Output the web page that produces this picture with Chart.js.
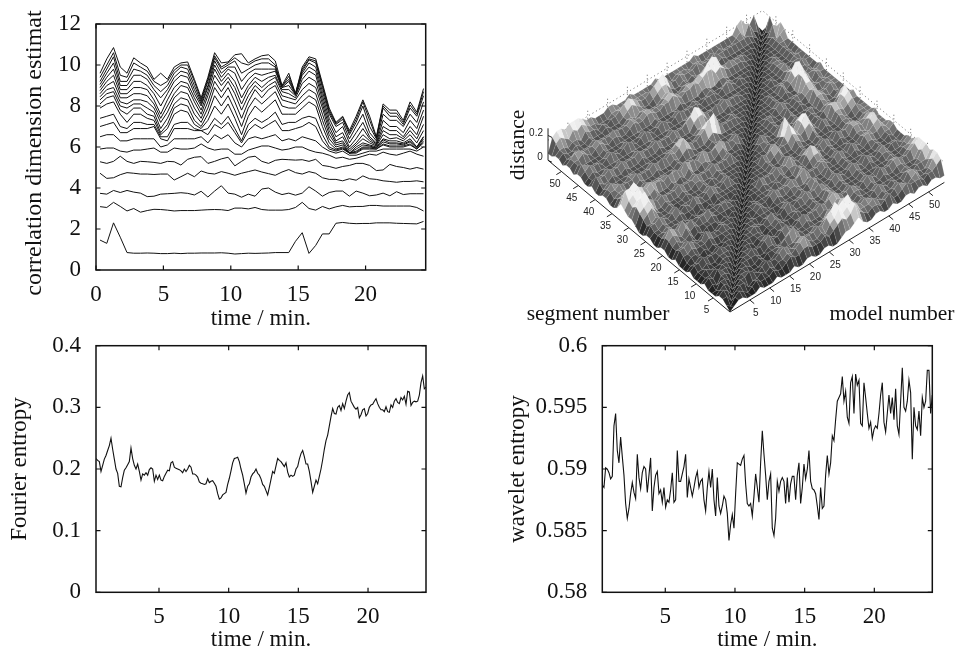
<!DOCTYPE html>
<html><head><meta charset="utf-8">
<script src="https://cdn.jsdelivr.net/npm/chart.js@4"></script>
<style>html,body{margin:0;background:#fff;width:955px;height:652px;overflow:hidden}canvas{position:absolute;display:block}</style>
</head><body>
<canvas id="c1" style="left:0;top:0" width="440" height="330"></canvas>
<canvas id="c2" style="left:500px;top:0" width="455" height="330"></canvas>
<canvas id="c3" style="left:0;top:330px" width="470" height="322"></canvas>
<canvas id="c4" style="left:490px;top:330px" width="465" height="322"></canvas>
<script>
// correlation dimension estimates, one list per embedding dimension
const dim01=[1.46,1.3,2.3,1.6,.85,.82,.82,.83,.82,.8,.8,.82,.8,.82,.82,.83,.83,.83,.84,.82,.78,.8,.82,.81,.82,.83,.85,.85,.85,1.4,1.82,.81,1.2,1.76,1.76,2.28,2.32,2.28,2.26,2.27,2.27,2.3,2.3,2.3,2.28,2.27,2.26,2.25,2.37];
const dim02=[3.09,3.05,3.3,3.1,2.88,3,2.82,2.9,2.96,2.95,2.92,2.88,2.9,2.9,2.9,2.92,2.94,2.95,2.94,2.9,3.02,3.02,2.98,3.05,2.95,2.92,2.92,2.92,2.95,3.05,3.3,3,2.92,3.1,2.98,3.08,3.15,3.08,3.1,3.1,3.15,3.15,3.12,3.12,3.12,3.12,3.12,3.05,2.88];
const dim03=[3.74,3.7,3.88,3.78,3.88,3.8,3.75,3.58,3.6,3.7,3.72,3.74,3.77,3.74,3.66,3.84,3.56,3.85,4.11,3.75,3.7,3.55,3.7,3.6,3.95,4.0,3.8,3.68,3.75,3.65,3.75,4.06,3.85,3.6,3.78,3.85,3.85,3.6,3.85,3.75,3.62,3.66,3.75,3.62,3.82,3.68,3.72,3.72,3.72];
const dim04=[4.72,4.47,4.5,4.65,4.75,4.72,4.68,4.68,4.66,4.68,4.68,4.39,4.55,4.72,4.55,4.83,4.72,4.68,4.8,4.72,4.62,4.72,4.8,4.88,4.78,4.7,4.62,4.78,4.9,4.75,4.68,4.8,4.72,4.5,4.42,4.42,4.35,4.45,4.38,4.59,4.45,4.42,4.35,4.32,4.28,4.32,4.32,4.35,4.3];
const dim05=[5.28,5.2,5.3,5.55,5.3,5.2,5.3,5.28,5.25,5.2,5.3,5.28,5.12,5.4,5.5,5.53,5.2,5.3,5.42,5.5,5.08,5.3,5.5,5.55,5.3,5.2,5.35,5.4,5.38,5.36,5.38,5.3,5.4,5.1,5.05,4.96,5.05,5.1,5.2,5.2,5.1,4.85,4.88,5.15,5.05,5.0,4.92,5.0,4.92];
const dim06=[5.9,5.95,5.95,5.8,5.75,5.85,5.85,5.9,5.95,5.75,5.75,5.95,5.9,5.9,5.95,6.15,5.95,5.85,5.9,5.9,5.65,5.65,5.85,5.95,6.05,6.05,5.95,5.85,5.9,6,6,5.85,5.75,5.7,5.6,5.45,5.5,5.4,5.45,5.55,5.65,5.6,5.75,5.65,5.6,5.7,5.8,5.65,5.55];
const dim07=[6.5,6.6,6.6,6.3,6.3,6.4,6.4,6.4,6.4,6.0,6.1,6.4,6.4,6.4,6.4,6.5,6.2,6.6,6.4,6.6,6.2,6.0,6.4,6.5,6.4,6.5,6.6,6.3,6.4,6.3,6.5,6.4,6.3,6.0,5.8,5.7,5.8,5.6,5.6,5.7,5.8,5.8,5.9,5.9,5.9,5.9,5.9,5.8,6.0];
const dim08=[7.0,7.1,7.2,6.7,6.7,6.9,6.9,6.9,7.0,6.4,6.3,6.9,6.9,6.9,6.8,6.8,6.6,7.1,6.9,7.2,6.7,6.2,6.8,7.1,6.9,7.1,7.3,6.8,6.8,6.9,7.0,7.2,7.0,6.3,5.9,5.8,5.9,5.7,5.7,5.9,5.9,5.9,6.1,6.0,6.0,6.0,6.1,5.9,6.2];
const dim09=[7.4,7.5,7.6,7.0,6.9,7.2,7.2,7.1,7.1,6.5,6.5,7.1,7.2,7.2,6.9,6.8,6.9,7.4,7.1,7.5,6.9,6.3,7.1,7.4,7.2,7.4,7.7,7.1,7.2,7.2,7.4,7.5,7.4,6.6,6.0,5.85,5.95,5.7,5.75,5.95,5.95,5.9,6.15,6.05,6.05,6.05,6.15,5.9,6.3];
const dim10=[7.9,8.1,8.2,7.6,7.2,7.6,7.6,7.4,7.3,6.6,6.9,7.6,7.8,7.7,7.1,6.9,7.3,8.0,7.6,8.1,7.4,6.6,7.5,8.0,7.7,8.0,8.3,7.6,7.6,7.6,7.9,8.2,8.0,7.0,6.2,5.9,6.0,5.7,5.8,6.0,6.0,5.95,6.25,6.15,6.15,6.1,6.25,5.95,6.4];
const dim11=[8.1,8.4,8.5,7.8,7.6,7.9,7.9,7.6,7.5,6.7,7.1,7.9,8.1,8.0,7.3,7.0,7.6,8.5,8.0,8.5,7.8,7.0,7.9,8.4,8.1,8.4,8.7,8.0,7.9,7.9,8.2,8.5,8.3,7.3,6.4,6.0,6.1,5.7,5.9,6.1,6.05,5.95,6.35,6.2,6.2,6.15,6.3,6.0,6.5];
const dim12=[8.3,8.6,8.7,8.0,7.9,8.1,8.1,7.9,7.7,6.9,7.4,8.1,8.4,8.3,7.6,7.2,7.9,8.9,8.4,8.9,8.2,7.4,8.2,8.8,8.4,8.8,9.0,8.3,8.2,8.1,8.5,8.8,8.6,7.6,6.6,6.1,6.2,5.7,6.0,6.2,6.1,6.0,6.4,6.3,6.3,6.2,6.4,6.0,6.5];
const dim13=[8.45,8.8,8.9,8.2,8.1,8.3,8.3,8.2,7.9,7.2,7.7,8.4,8.7,8.6,7.9,7.4,8.2,9.2,8.7,9.2,8.6,7.8,8.5,9.0,8.7,9.0,9.2,8.5,8.4,8.3,8.8,9.1,8.9,7.9,6.8,6.2,6.3,5.8,6.1,6.4,6.2,6.05,6.6,6.4,6.45,6.3,6.6,6.2,6.8];
const dim14=[8.6,9.0,9.2,8.4,8.4,8.6,8.6,8.5,8.1,7.4,8.0,8.6,9.0,8.9,8.2,7.6,8.5,9.5,9.0,9.4,8.9,8.1,8.8,9.2,8.9,9.2,9.4,8.7,8.6,8.4,9.1,9.4,9.2,8.1,7.0,6.3,6.5,5.9,6.2,6.6,6.3,6.1,6.8,6.6,6.6,6.4,6.8,6.4,7.1];
const dim15=[8.75,9.2,9.5,8.6,8.6,8.9,8.9,8.8,8.3,7.6,8.3,8.9,9.2,9.1,8.4,7.8,8.7,9.8,9.2,9.6,9.2,8.4,9.0,9.4,9.2,9.4,9.5,8.8,8.8,8.5,9.3,9.7,9.5,8.3,7.2,6.5,6.7,6.0,6.4,6.9,6.4,6.15,7.0,6.8,6.8,6.5,7.0,6.6,7.5];
const dim16=[8.9,9.4,9.8,8.8,8.8,9.2,9.2,9.0,8.6,8.0,8.6,9.2,9.5,9.4,8.6,8.0,8.9,10.0,9.4,9.8,9.6,8.8,9.3,9.6,9.5,9.6,9.7,8.9,9.0,8.55,9.5,9.9,9.7,8.5,7.4,6.7,7.0,6.2,6.7,7.2,6.5,6.2,7.3,7.0,7.0,6.7,7.3,6.9,7.8];
const dim17=[9.05,9.6,10.1,9.0,9.0,9.5,9.5,9.3,8.8,8.4,8.8,9.4,9.7,9.6,8.8,8.1,9.0,10.2,9.6,9.9,9.9,9.2,9.6,9.8,9.8,9.8,9.8,8.9,9.2,8.55,9.6,10.1,9.9,8.7,7.6,7.0,7.2,6.4,7.0,7.6,6.7,6.3,7.6,7.3,7.3,7.0,7.6,7.2,8.2];
const dim18=[9.2,9.8,10.4,9.2,9.2,9.8,9.7,9.5,9.0,8.7,9.0,9.6,9.9,9.8,9.0,8.2,9.2,10.35,9.8,10.0,10.2,9.6,9.8,10.0,10.1,10.1,9.9,8.95,9.3,8.6,9.7,10.25,10.1,8.9,7.7,7.1,7.35,6.6,7.2,8.0,7.0,6.4,7.9,7.5,7.5,7.1,7.9,7.5,8.5];
const dim19=[9.4,10.0,10.6,9.5,9.4,10.1,9.9,9.7,9.2,9.0,9.2,9.75,10.0,10.0,9.2,8.3,9.3,10.45,9.9,10.1,10.35,10.1,10.0,10.2,10.3,10.3,10.0,8.95,9.45,8.6,9.8,10.3,10.2,9.0,7.8,7.15,7.45,6.7,7.35,8.2,7.3,6.45,8.0,7.65,7.65,7.2,8.05,7.6,8.7];
const dim20=[9.6,10.3,10.85,9.9,9.6,10.35,10.1,9.9,9.3,9.6,9.3,9.9,10.1,10.15,9.3,8.4,9.4,10.6,10.1,10.15,10.5,10.55,10.1,10.3,10.45,10.5,10.2,9.0,9.6,8.6,9.9,10.4,10.3,9.1,7.9,7.2,7.5,6.8,7.5,8.3,7.5,6.5,8.1,7.8,7.8,7.3,8.2,7.7,8.85];
const dimSeries=[dim01,dim02,dim03,dim04,dim05,dim06,dim07,dim08,dim09,dim10,dim11,dim12,dim13,dim14,dim15,dim16,dim17,dim18,dim19,dim20];
const dimStart=0.3, dimStep=0.5;
const dimXTicks=[0,5,10,15,20], dimYTicks=[0,2,4,6,8,10,12];

const fourier=[.217,.214,.212,.196,.206,.216,.222,.23,.238,.25,.232,.216,.2,.193,.172,.171,.186,.198,.202,.207,.212,.234,.217,.206,.2,.208,.196,.182,.192,.19,.194,.19,.199,.202,.2,.18,.19,.183,.19,.182,.181,.188,.193,.198,.197,.21,.212,.203,.201,.2,.199,.197,.194,.2,.196,.2,.206,.203,.192,.192,.19,.187,.179,.177,.176,.175,.176,.184,.178,.18,.181,.177,.172,.16,.151,.153,.158,.16,.162,.175,.185,.197,.21,.217,.218,.219,.212,.2,.19,.176,.161,.172,.176,.187,.192,.195,.2,.193,.19,.184,.175,.172,.165,.158,.17,.183,.196,.193,.205,.217,.214,.212,.208,.204,.21,.195,.187,.19,.188,.19,.2,.204,.216,.225,.23,.22,.208,.208,.196,.18,.162,.172,.182,.176,.188,.2,.215,.232,.246,.255,.27,.285,.298,.29,.289,.3,.303,.295,.306,.298,.31,.32,.324,.31,.305,.3,.297,.3,.283,.288,.296,.298,.286,.29,.3,.304,.305,.31,.314,.306,.3,.296,.296,.293,.301,.293,.292,.304,.3,.31,.314,.308,.306,.316,.312,.318,.305,.326,.325,.303,.308,.31,.309,.31,.32,.34,.351,.33,.333];
const wavelet=[.5887,.5885,.5901,.59,.5897,.5892,.5894,.5935,.5945,.5915,.5905,.5926,.591,.5895,.5872,.586,.5868,.588,.5889,.5881,.5876,.5912,.5893,.5884,.5897,.5902,.59,.5881,.5895,.5909,.5866,.5885,.5895,.5898,.588,.5883,.5873,.5885,.5869,.5875,.5873,.5883,.5897,.5873,.5875,.5915,.589,.589,.5896,.5902,.5912,.5877,.5892,.5885,.5878,.5885,.5893,.5898,.5885,.589,.5892,.5875,.5866,.5885,.5898,.5885,.59,.5875,.5862,.5893,.587,.5864,.587,.5878,.5875,.5864,.5842,.5855,.5863,.5852,.588,.5905,.5904,.5903,.5908,.5911,.5888,.5872,.587,.5872,.5862,.5878,.5896,.5885,.5873,.5905,.5931,.5912,.5895,.5875,.589,.5896,.5852,.5846,.586,.589,.5882,.589,.5893,.589,.5872,.5893,.5873,.5888,.5894,.5894,.5875,.5895,.5905,.5872,.5885,.5904,.5892,.59,.5915,.589,.5884,.5883,.588,.587,.5859,.5885,.5868,.587,.5895,.5911,.5896,.5905,.5927,.5923,.594,.5955,.5958,.5961,.5975,.5955,.5963,.5942,.5937,.597,.5975,.5945,.5977,.5968,.5972,.5937,.5935,.597,.5958,.5945,.5933,.5938,.5925,.5932,.5935,.5933,.5945,.596,.597,.5938,.593,.5945,.596,.5945,.5958,.594,.5965,.5935,.5928,.5955,.5982,.595,.5947,.5955,.5972,.5962,.5908,.595,.5935,.5932,.5947,.5927,.5958,.595,.5955,.598,.598,.5945,.596];
const entropyStart=0.48, entropyEnd=24.16;
const entropyXTicks=[5,10,15,20];
const fourierYTicks=[0,.1,.2,.3,.4];
const waveletYTicks=[.58,.585,.59,.595,.6];

// distance surface: lower triangle, row = segment, column = model
const distance=[
[0],
[1,0],
[2,2,0],
[2,3,2,0],
[1,2,3,2,0],
[1,1,3,3,2,0],
[1,2,1,3,3,2,0],
[2,3,2,4,3,3,2,0],
[1,2,2,3,2,3,3,2,0],
[1,2,3,2,2,2,3,3,2,0],
[1,2,2,3,2,2,3,3,3,2,0],
[2,3,3,4,3,3,3,4,3,3,2,0],
[1,2,2,3,2,2,2,3,2,3,3,2,0],
[1,2,3,3,2,3,2,3,2,2,3,3,2,0],
[1,3,3,4,3,3,3,4,3,3,3,3,3,2,0],
[2,4,4,5,4,3,3,5,4,3,3,4,3,3,2,0],
[1,3,3,4,3,3,2,3,3,2,2,3,3,3,3,2,0],
[1,3,4,3,3,4,2,3,2,3,3,3,2,3,2,3,2,0],
[2,4,5,4,3,5,3,4,3,3,3,4,3,3,3,3,3,2,0],
[2,4,6,5,4,6,4,5,3,4,4,5,3,3,4,4,3,3,2,0],
[1,3,4,4,3,4,3,3,3,3,3,3,3,3,3,3,3,2,3,2,0],
[1,3,3,4,3,3,3,3,2,3,2,3,2,3,2,3,3,3,3,3,2,0],
[2,3,3,4,3,3,3,4,3,3,3,4,3,3,3,4,3,3,3,3,3,2,0],
[2,4,4,5,4,3,4,5,3,4,3,5,4,3,4,5,4,3,4,5,3,3,2,0],
[1,3,3,4,3,3,3,4,2,3,3,3,3,3,3,4,3,3,3,4,3,3,3,2,0],
[1,4,5,6,4,3,3,4,3,3,3,4,3,3,3,4,3,4,3,4,3,3,3,3,2,0],
[2,5,6,7,5,3,3,4,3,3,3,4,3,3,4,4,3,3,3,4,3,3,3,3,3,2,0],
[3,6,8,9,6,5,4,5,4,4,4,5,4,4,4,5,4,4,4,5,4,4,4,5,3,3,2,0],
[3,5,6,7,5,3,3,4,3,3,3,4,3,3,3,4,3,3,3,4,3,3,3,4,3,3,3,2,0],
[4,6,7,8,6,4,4,5,3,3,3,4,3,4,3,5,3,3,4,4,3,3,4,5,3,3,4,3,2,0],
[5,8,8,9,7,6,5,6,5,5,4,5,5,5,4,6,5,5,4,6,5,4,5,6,5,4,4,5,3,2,0],
[3,5,6,6,5,4,4,5,4,4,4,4,3,4,3,4,3,4,3,4,4,3,3,4,3,3,3,4,3,3,2,0],
[2,4,4,5,4,3,3,4,3,3,3,3,3,3,3,4,3,3,3,3,3,3,3,4,3,3,3,3,3,3,3,2,0],
[2,3,4,4,3,3,3,4,3,3,3,4,3,3,3,4,3,4,5,4,3,3,3,4,5,4,3,3,3,3,3,3,2,0],
[3,4,4,5,4,4,4,5,4,4,4,5,4,5,4,5,4,5,7,5,4,4,5,6,8,9,6,4,4,4,4,3,3,2,0],
[3,4,5,4,3,3,4,4,3,3,3,4,3,3,3,4,4,5,6,4,3,3,4,5,6,6,4,3,3,3,4,3,3,3,2,0],
[2,3,4,3,3,3,3,3,3,3,3,3,3,3,3,3,3,3,4,3,3,3,3,4,4,4,3,3,3,3,3,3,3,3,3,2,0],
[2,4,3,3,4,3,3,4,3,3,3,4,3,3,3,4,3,3,3,4,3,3,3,5,6,6,4,3,3,3,3,4,3,3,3,3,2,0],
[3,5,4,4,5,4,4,5,4,4,4,5,4,4,4,5,4,4,4,5,4,4,5,6,8,7,5,4,4,5,4,5,4,4,4,3,3,2,0],
[2,3,3,3,4,3,3,4,3,3,3,4,3,3,3,4,3,3,3,4,3,3,3,4,5,4,3,3,3,3,3,4,3,3,3,3,3,3,2,0],
[2,3,4,3,3,3,3,3,3,3,3,3,3,3,3,3,3,3,3,3,3,3,3,3,3,3,3,3,3,3,3,3,3,3,3,3,3,3,3,2,0],
[3,4,5,4,4,3,4,5,4,3,4,5,4,3,4,5,4,3,4,5,4,3,4,5,4,4,4,4,3,4,4,4,3,4,5,4,3,4,3,3,2,0],
[3,5,4,3,3,3,3,4,3,3,3,4,3,3,3,4,3,3,3,4,3,3,3,4,3,3,3,4,3,3,3,4,3,3,3,4,3,3,3,3,3,2,0],
[2,4,3,3,3,3,3,4,3,3,3,3,3,3,3,3,3,3,3,4,3,3,3,3,3,4,3,3,3,3,4,4,3,3,4,4,3,3,3,3,3,3,2,0],
[3,4,4,5,4,3,4,5,4,3,4,4,3,3,4,5,4,4,5,5,4,4,5,5,6,5,4,5,5,6,5,6,7,7,5,6,5,4,4,4,4,3,3,2,0],
[3,4,5,5,4,4,4,5,4,4,4,5,4,4,4,5,4,4,5,5,4,4,4,5,6,5,4,4,5,5,5,6,6,8,9,8,5,4,5,4,4,4,3,3,2,0],
[2,3,3,4,3,3,3,4,3,3,3,3,3,3,3,4,4,3,4,4,3,3,3,4,5,4,3,3,4,4,3,4,4,5,6,5,4,3,3,3,3,3,3,3,3,2,0],
[3,4,3,3,4,3,3,4,3,3,3,4,3,3,3,4,5,6,5,4,3,3,4,5,6,6,4,3,3,4,3,4,3,3,4,3,4,3,4,3,3,3,3,3,3,3,2,0],
[3,4,4,3,4,4,3,5,4,4,3,4,3,4,4,5,6,7,6,5,4,4,5,6,7,8,6,4,4,5,4,4,4,5,4,4,4,5,4,4,4,4,4,4,4,4,3,2,0],
[2,5,6,5,4,6,5,6,5,4,4,3,3,3,4,4,4,4,4,4,4,4,4,3,4,5,4,3,3,4,4,4,3,4,4,3,3,4,3,4,3,3,3,4,5,3,6,3,2,0],
[2,6,7,7,6,7,7,7,6,5,5,4,4,4,5,5,4,4,4,5,4,4,4,4,4,5,4,4,4,4,4,4,4,4,5,4,4,4,4,4,4,4,4,4,6,7,5,4,6,2,0]
];
const surfaceTicks=[5,10,15,20,25,30,35,40,45,50];
const axisEnd=54;

const SERIF='"Liberation Serif","Times New Roman",serif';
const INK='#111';
Chart.defaults.animation=false;
Chart.defaults.events=[];
Chart.defaults.plugins.legend.display=false;
Chart.defaults.plugins.tooltip.enabled=false;

const framePlugin={id:'frame',afterDatasetsDraw(c){
  const {ctx,chartArea:a,scales:{x,y}}=c;const T=4.5;
  ctx.save();ctx.strokeStyle=INK;ctx.lineWidth=1.2;ctx.beginPath();
  x.ticks.forEach(t=>{const p=x.getPixelForValue(t.value);ctx.moveTo(p,a.top);ctx.lineTo(p,a.top+T);ctx.moveTo(p,a.bottom);ctx.lineTo(p,a.bottom-T);});
  y.ticks.forEach(t=>{const p=y.getPixelForValue(t.value);ctx.moveTo(a.left,p);ctx.lineTo(a.left+T,p);ctx.moveTo(a.right,p);ctx.lineTo(a.right-T,p);});
  ctx.stroke();ctx.lineWidth=1.5;ctx.strokeRect(a.left,a.top,a.right-a.left,a.bottom-a.top);ctx.restore();
}};

function lineChart(id,o){
  return new Chart(document.getElementById(id),{type:'scatter',plugins:[framePlugin].concat(o.plugins||[]),
    data:{datasets:o.series.map(d=>({data:d,showLine:true,pointRadius:0,borderColor:INK,borderWidth:o.lw||1.1,tension:0,fill:false,parsing:false}))},
    options:{responsive:false,layout:{padding:o.pad},
      scales:{
        x:{type:'linear',min:o.xMin,max:o.xMax,afterBuildTicks:s=>{s.ticks=o.xTicks.map(v=>({value:v}));},afterFit:s=>{s.height=o.xH;s.paddingLeft=0;s.paddingRight=0;},
          grid:{display:false,drawTicks:false},border:{display:false},
          ticks:{color:INK,font:{family:SERIF,size:23,lineHeight:1},padding:13.5,autoSkip:false,maxRotation:0,callback:v=>String(v)},
          title:{display:true,text:'time / min.',color:INK,font:{family:SERIF,size:23,lineHeight:1},padding:{top:0,bottom:o.xTitlePad}}},
        y:{type:'linear',min:o.yMin,max:o.yMax,afterBuildTicks:s=>{s.ticks=o.yTicks.map(v=>({value:v}));},afterFit:s=>{s.width=o.yW;s.paddingTop=0;s.paddingBottom=0;},
          grid:{display:false,drawTicks:false},border:{display:false},
          ticks:{color:INK,font:{family:SERIF,size:23,lineHeight:1},padding:15,autoSkip:false,callback:v=>String(+(+v).toFixed(3))},
          title:{display:!!o.yTitle,text:o.yTitle,color:INK,font:{family:SERIF,size:23,lineHeight:1},padding:{top:o.yTitlePad,bottom:0}}}
      }}});
}
const labelTL={id:'longTitle',afterDraw(c){const g=c.ctx;g.save();g.translate(35,153);g.rotate(-Math.PI/2);g.fillStyle=INK;g.font='24px '+SERIF;g.textAlign='center';g.textBaseline='middle';g.fillText('correlation dimension estimat',0,0);g.restore();}};

lineChart('c1',{series:dimSeries.map(a=>a.map((v,i)=>({x:dimStart+i*dimStep,y:v}))),plugins:[labelTL],
  pad:{left:0,top:24,right:14.3,bottom:0},xMin:0,xMax:24.46,xTicks:dimXTicks,xH:60,xTitlePad:0,
  yMin:0,yMax:12,yTicks:dimYTicks,yW:96,lw:1});
const entropyPts=a=>a.map((v,i)=>({x:entropyStart+i*(entropyEnd-entropyStart)/(a.length-1),y:v}));
lineChart('c3',{series:[entropyPts(fourier)],pad:{left:0,top:15.7,right:44,bottom:0},xMin:entropyStart,xMax:entropyEnd,xTicks:entropyXTicks,xH:59.7,xTitlePad:.5,
  yMin:0,yMax:.4,yTicks:fourierYTicks,yW:96,yTitle:'Fourier entropy',yTitlePad:8.5});
lineChart('c4',{series:[entropyPts(wavelet)],pad:{left:0,top:15.7,right:22.7,bottom:0},xMin:entropyStart,xMax:entropyEnd,xTicks:entropyXTicks,xH:59.7,xTitlePad:.5,
  yMin:.58,yMax:.6,yTicks:waveletYTicks,yW:112.3,yTitle:'wavelet entropy',yTitlePad:16});

// 3-D surface: every facet is a closed line dataset projected onto hidden linear scales
const F=[230,312], MV=[3.97,-2.4], SV=[-3.37,-2.81], ZV=3.4;
const proj=(s,m,h)=>({x:F[0]+m*MV[0]+s*SV[0],y:F[1]+m*MV[1]+s*SV[1]-h*ZV});
const N=distance.length, nodeStep=axisEnd/(N-1);
const height=(i,j)=>i===j?0:(i>j?(distance[i][j]??2):(distance[j][i]??2));
const node=(i,j)=>proj(i*nodeStep,j*nodeStep,height(i,j));
const plainLine=(pts,color,w,dash)=>({data:pts,showLine:true,pointRadius:0,borderColor:color,borderWidth:w,borderDash:dash||[],fill:false,tension:0,parsing:false});
const front=[];
front.push(plainLine([proj(axisEnd,0,0),proj(0,0,0),proj(0,axisEnd,0)],'#222',1));
surfaceTicks.forEach(t=>{
  front.push(plainLine([proj(0,t,0),proj(-1.3,t,0)],'#222',1));
  front.push(plainLine([proj(t,0,0),proj(t,-1.3,0)],'#222',1));
});
front.push(plainLine([proj(axisEnd,0,0),proj(axisEnd,0,9.4)],'#222',1));
[0,7.3].forEach(h=>front.push(plainLine([proj(axisEnd,0,h),{x:proj(axisEnd,0,h).x+4,y:proj(axisEnd,0,h).y+2}],'#222',1)));
// facets, nearest first because the first dataset is painted last
const facets=[];
for(let sum=0;sum<=2*(N-2);sum++){
  for(let i=0;i<N-1;i++){const j=sum-i;if(j<0||j>=N-1)continue;
    const h00=height(i,j),h01=height(i,j+1),h10=height(i+1,j),h11=height(i+1,j+1);
    const avg=(h00+h01+h10+h11)/4;
    const slope=(h00+h10-h01-h11)*3;
    const g=Math.max(22,Math.min(240,28+6.5*Math.pow(avg,1.9)+slope));
    const col=`rgb(${g|0},${g|0},${g|0})`;
    const p=node(i,j);
    facets.push({data:[p,node(i,j+1),node(i+1,j+1),node(i+1,j),p],showLine:true,pointRadius:0,tension:0,parsing:false,
      fill:'shape',backgroundColor:col,borderColor:'rgba(240,240,240,0.2)',borderWidth:.5});
  }
}
// dotted back box, painted first
const back=[];
back.push(plainLine([proj(axisEnd,0,5.9),proj(axisEnd,axisEnd,5.9),proj(0,axisEnd,5.9)],'#444',.8,[1,3]));
surfaceTicks.forEach(t=>{
  back.push(plainLine([proj(axisEnd,t,0),proj(axisEnd,t,8.2)],'#444',.8,[1,2.5]));
  back.push(plainLine([proj(t,axisEnd,0),proj(t,axisEnd,8.2)],'#444',.8,[1,2.5]));
});
const surfaceText={id:'surfaceText',afterDraw(c){
  const g=c.ctx,{x,y}=c.scales;g.save();g.fillStyle='#222';g.textAlign='center';g.textBaseline='middle';
  g.font='10px "Liberation Sans",Arial,sans-serif';
  const put=(t,p,dx,dy)=>g.fillText(t,x.getPixelForValue(p.x)+dx,y.getPixelForValue(p.y)+dy);
  surfaceTicks.forEach(t=>{put(String(t),proj(0,t,0),6,13);put(String(t),proj(t,0,0),-6.5,12.3);});
  put('0',proj(axisEnd,0,0),-8,-3);put('0.2',proj(axisEnd,0,7.3),-12,-2);
  g.fillStyle=INK;g.font='21.5px '+SERIF;
  g.fillText('segment number',98,314);g.fillText('model number',392,314);
  g.translate(18,145);g.rotate(-Math.PI/2);g.fillText('distance',0,0);g.restore();
}};
new Chart(document.getElementById('c2'),{type:'scatter',plugins:[surfaceText],
  data:{datasets:front.concat(facets,back)},
  options:{responsive:false,layout:{padding:0},clip:false,
    scales:{x:{type:'linear',display:false,min:0,max:455},y:{type:'linear',display:false,min:0,max:330,reverse:true}}}});
</script>
</body></html>
